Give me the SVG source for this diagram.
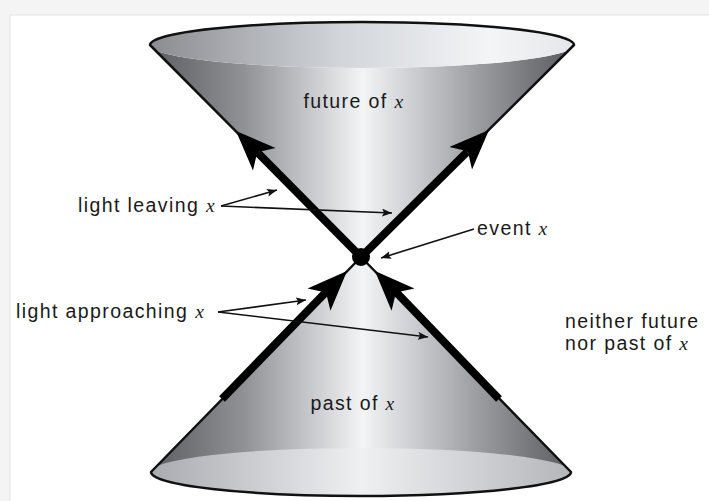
<svg xmlns="http://www.w3.org/2000/svg" xmlns:xlink="http://www.w3.org/1999/xlink" width="709" height="501" viewBox="0 0 709 501">
<defs>
<linearGradient id="body" gradientUnits="userSpaceOnUse" x1="150" y1="0" x2="575" y2="0">
<stop offset="0" stop-color="#5c5d60"/>
<stop offset="0.22" stop-color="#8f9195"/>
<stop offset="0.5" stop-color="#f3f4f6"/>
<stop offset="0.78" stop-color="#989a9e"/>
<stop offset="1" stop-color="#58595c"/>
</linearGradient>
<linearGradient id="toprim" gradientUnits="userSpaceOnUse" x1="150" y1="0" x2="575" y2="0">
<stop offset="0" stop-color="#8a8c90"/>
<stop offset="0.45" stop-color="#d2d5d9"/>
<stop offset="0.8" stop-color="#f3f5f7"/>
<stop offset="1" stop-color="#e4e6e9"/>
</linearGradient>
<linearGradient id="botrim" gradientUnits="userSpaceOnUse" x1="151" y1="0" x2="571" y2="0">
<stop offset="0" stop-color="#a9abb0"/>
<stop offset="0.5" stop-color="#eef0f2"/>
<stop offset="1" stop-color="#b4b6ba"/>
</linearGradient>
<path id="bighead" d="M0,0 L-40,-16 L-30,0 L-40,16 Z"/>
<marker id="tip" viewBox="0 0 10 8" refX="10" refY="4" markerWidth="10" markerHeight="8" markerUnits="userSpaceOnUse" orient="auto">
<path d="M0,0 L10,4 L0,8 L2,4 Z" fill="#111"/>
</marker>
</defs>
<style>
.outline{fill:none;stroke:#111;stroke-width:2.5;stroke-linejoin:round}
.thick{stroke:#000;stroke-width:8;fill:none}
.thin{stroke:#111;stroke-width:1.6;fill:none;marker-end:url(#tip)}
.lbl{font-family:"Liberation Sans",Arial,sans-serif;font-size:19.5px;fill:#1a1a1a;letter-spacing:1.4px}
.mid{text-anchor:middle}
.var{font-family:"Liberation Serif","Times New Roman",serif;font-style:italic}
</style>
<rect x="0" y="0" width="709" height="501" fill="#f4f4f4"/>
<rect x="10" y="15" width="700" height="487" fill="#ffffff" stroke="#e4e4e4" stroke-width="1"/>

<g id="future-cone">
<path d="M150,45 A212,23 0 0,0 574,45 L361,257 Z" fill="url(#body)"/>
<ellipse cx="362" cy="45" rx="212" ry="23" fill="url(#toprim)"/>
<path class="outline" d="M361,257 L150,45 A212,23 0 0,1 574,45 Z"/>
<text class="lbl mid" x="354" y="108">future of <tspan class="var">x</tspan></text>
</g>

<g id="past-cone">
<path d="M361,257 L151,472 A210,24 0 0,0 571,472 Z" fill="url(#body)"/>
<ellipse cx="361" cy="472" rx="210" ry="24" fill="url(#botrim)"/>
<path class="outline" d="M361,257 L151,472 A210,24 0 0,0 571,472 Z"/>
<text class="lbl mid" x="353" y="410">past of <tspan class="var">x</tspan></text>
</g>

<g id="light-rays">
<line class="thick" x1="361" y1="257" x2="258" y2="153"/>
<use xlink:href="#bighead" transform="translate(236,131) rotate(-135)"/>
<line class="thick" x1="361" y1="257" x2="467" y2="152"/>
<use xlink:href="#bighead" transform="translate(489,130) rotate(-45)"/>
<line class="thick" x1="222" y1="399" x2="327" y2="291"/>
<use xlink:href="#bighead" transform="translate(347,271) rotate(-45.6)"/>
<line class="thick" x1="499" y1="399" x2="395" y2="291"/>
<use xlink:href="#bighead" transform="translate(375,271) rotate(-134.4)"/>
</g>

<g id="event-x">
<circle cx="361" cy="257" r="9" fill="#000"/>
<text class="lbl" x="477" y="235">event <tspan class="var">x</tspan></text>
</g>

<g id="label-leaving">
<text class="lbl" x="78" y="212">light leaving <tspan class="var">x</tspan></text>
</g>
<g id="label-approaching">
<text class="lbl" x="16" y="318">light approaching <tspan class="var">x</tspan></text>
</g>
<g id="label-neither">
<text class="lbl" x="565" y="328">neither future</text>
<text class="lbl" x="565" y="350">nor past of <tspan class="var">x</tspan></text>
</g>

<g id="connectors">
<line class="thin" x1="221" y1="206" x2="277" y2="190"/>
<line class="thin" x1="221" y1="206" x2="392" y2="213"/>
<line class="thin" x1="474" y1="229" x2="381" y2="258"/>
<line class="thin" x1="218" y1="312" x2="306" y2="300"/>
<line class="thin" x1="218" y1="312" x2="428" y2="337"/>
</g>
</svg>
